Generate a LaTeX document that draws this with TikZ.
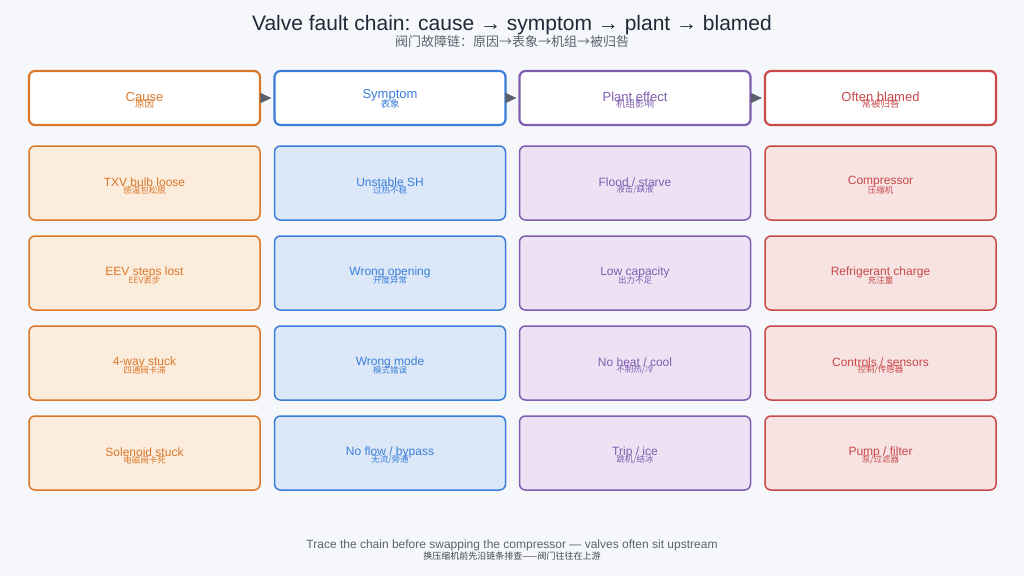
\documentclass[tikz,border=0pt]{standalone}
\usepackage{fontspec}
\setmainfont{Liberation Sans}
\newfontfamily\cjk{Noto Sans CJK SC}
\usetikzlibrary{arrows.meta}
\definecolor{bg}{HTML}{F5F7FA}
\definecolor{ttl}{HTML}{1F2937}
\definecolor{sub}{HTML}{5B6370}
\definecolor{arr}{HTML}{59606B}
\definecolor{co}{HTML}{D9782B}\definecolor{cof}{HTML}{FCECDC}
\definecolor{cb}{HTML}{3A7DDA}\definecolor{cbf}{HTML}{DCE8F8}
\definecolor{cp}{HTML}{7F5DB0}\definecolor{cpf}{HTML}{ECE2F4}
\definecolor{cr}{HTML}{C94848}\definecolor{crf}{HTML}{F8E3E3}
\tikzset{
  hbox/.style={draw=#1,fill=white,line width=2.2pt,rounded corners=6pt,minimum width=231pt,minimum height=54pt,inner sep=0pt},
  bbox/.style 2 args={draw=#1,fill=#2,line width=1.5pt,rounded corners=6pt,minimum width=231pt,minimum height=74pt,inner sep=0pt},
  hen/.style={text=#1,font=\fontsize{13}{13}\selectfont,inner sep=0pt},
  hcn/.style={text=#1,font=\cjk\fontsize{9.5}{9.5}\selectfont,inner sep=0pt},
  ben/.style={text=#1,font=\fontsize{12}{12}\selectfont,inner sep=0pt},
  bcn/.style={text=#1,font=\cjk\fontsize{8.5}{8.5}\selectfont,inner sep=0pt},
  flow/.style={draw=arr,line width=1pt,-{Triangle[length=11pt,width=10pt]},shorten >=2pt,fill=arr},
}
\begin{document}
\begin{tikzpicture}[x=1pt,y=-1pt]
\fill[bg] (0,0) rectangle (1024,576);
\useasboundingbox (0,0) rectangle (1024,576);
\node[text=ttl,font=\fontsize{21}{21}\selectfont,inner sep=0pt] (title) at (512,25) {Valve fault chain: cause → symptom → plant → blamed};
\node[text=sub,font=\cjk\fontsize{13}{13}\selectfont,inner sep=0pt] (subtitle) at (512,42) {阀门故障链：原因→表象→机组→被归咎};
% headers
\node[hbox=co] (h1) at (144.5,98) {};
\node[hbox=cb] (h2) at (390,98) {};
\node[hbox=cp] (h3) at (635,98) {};
\node[hbox=cr] (h4) at (880.5,98) {};
\node[hen=co] (h1e) at ([yshift=1pt]h1.center) {Cause};
\node[hcn=co] (h1c) at ([yshift=-6pt]h1.center) {原因};
\node[hen=cb] (h2e) at ([yshift=2.5pt]h2.center) {Symptom};
\node[hcn=cb] (h2c) at ([yshift=-6pt]h2.center) {表象};
\node[hen=cp] (h3e) at ([yshift=1pt]h3.center) {Plant effect};
\node[hcn=cp] (h3c) at ([yshift=-6pt]h3.center) {机组影响};
\node[hen=cr] (h4e) at ([yshift=1pt]h4.center) {Often blamed};
\node[hcn=cr] (h4c) at ([yshift=-6pt]h4.center) {常被归咎};
\draw[flow] (h1.east) -- (h2.west);
\draw[flow] (h2.east) -- (h3.west);
\draw[flow] (h3.east) -- (h4.west);
% body rows
\foreach \r/\y in {1/183,2/273,3/363,4/453}{
  \node[bbox={co}{cof}] (a\r) at (144.5,\y) {};
  \node[bbox={cb}{cbf}] (b\r) at (390,\y) {};
  \node[bbox={cp}{cpf}] (c\r) at (635,\y) {};
  \node[bbox={cr}{crf}] (d\r) at (880.5,\y) {};
}
\foreach \n/\col/\en/\cn in {
  a1/co/{TXV bulb loose}/{感温包松脱}, a2/co/{EEV steps lost}/{EEV丢步}, a3/co/{4-way stuck}/{四通阀卡滞}, a4/co/{Solenoid stuck}/{电磁阀卡死},
  b1/cb/{Unstable SH}/{过热不稳}, b2/cb/{Wrong opening}/{开度异常}, b3/cb/{Wrong mode}/{模式错误}, b4/cb/{No flow / bypass}/{无流/旁通},
  c1/cp/{Flood / starve}/{液击/缺液}, c2/cp/{Low capacity}/{出力不足}, c3/cp/{No heat / cool}/{不制热/冷}, c4/cp/{Trip / ice}/{跳机/结冰},
  d1/cr/{Compressor}/{压缩机}, d2/cr/{Refrigerant charge}/{充注量}, d3/cr/{Controls / sensors}/{控制/传感器}, d4/cr/{Pump / filter}/{泵/过滤器}}{
  \node[ben=\col] (\n e) at ([yshift=1pt]\n.center) {\en};
  \node[bcn=\col] (\n c) at ([yshift=-7pt]\n.center) {\cn};
}
\node[text=sub,font=\fontsize{12}{12}\selectfont,inner sep=0pt] (foot) at (512,545) {Trace the chain before swapping the compressor — valves often sit upstream};
\node[text=sub!70!black,font=\cjk\fontsize{9}{9}\selectfont,inner sep=0pt] (footcn) at (512,556) {换压缩机前先沿链条排查——阀门往往在上游};
\end{tikzpicture}
\end{document}
